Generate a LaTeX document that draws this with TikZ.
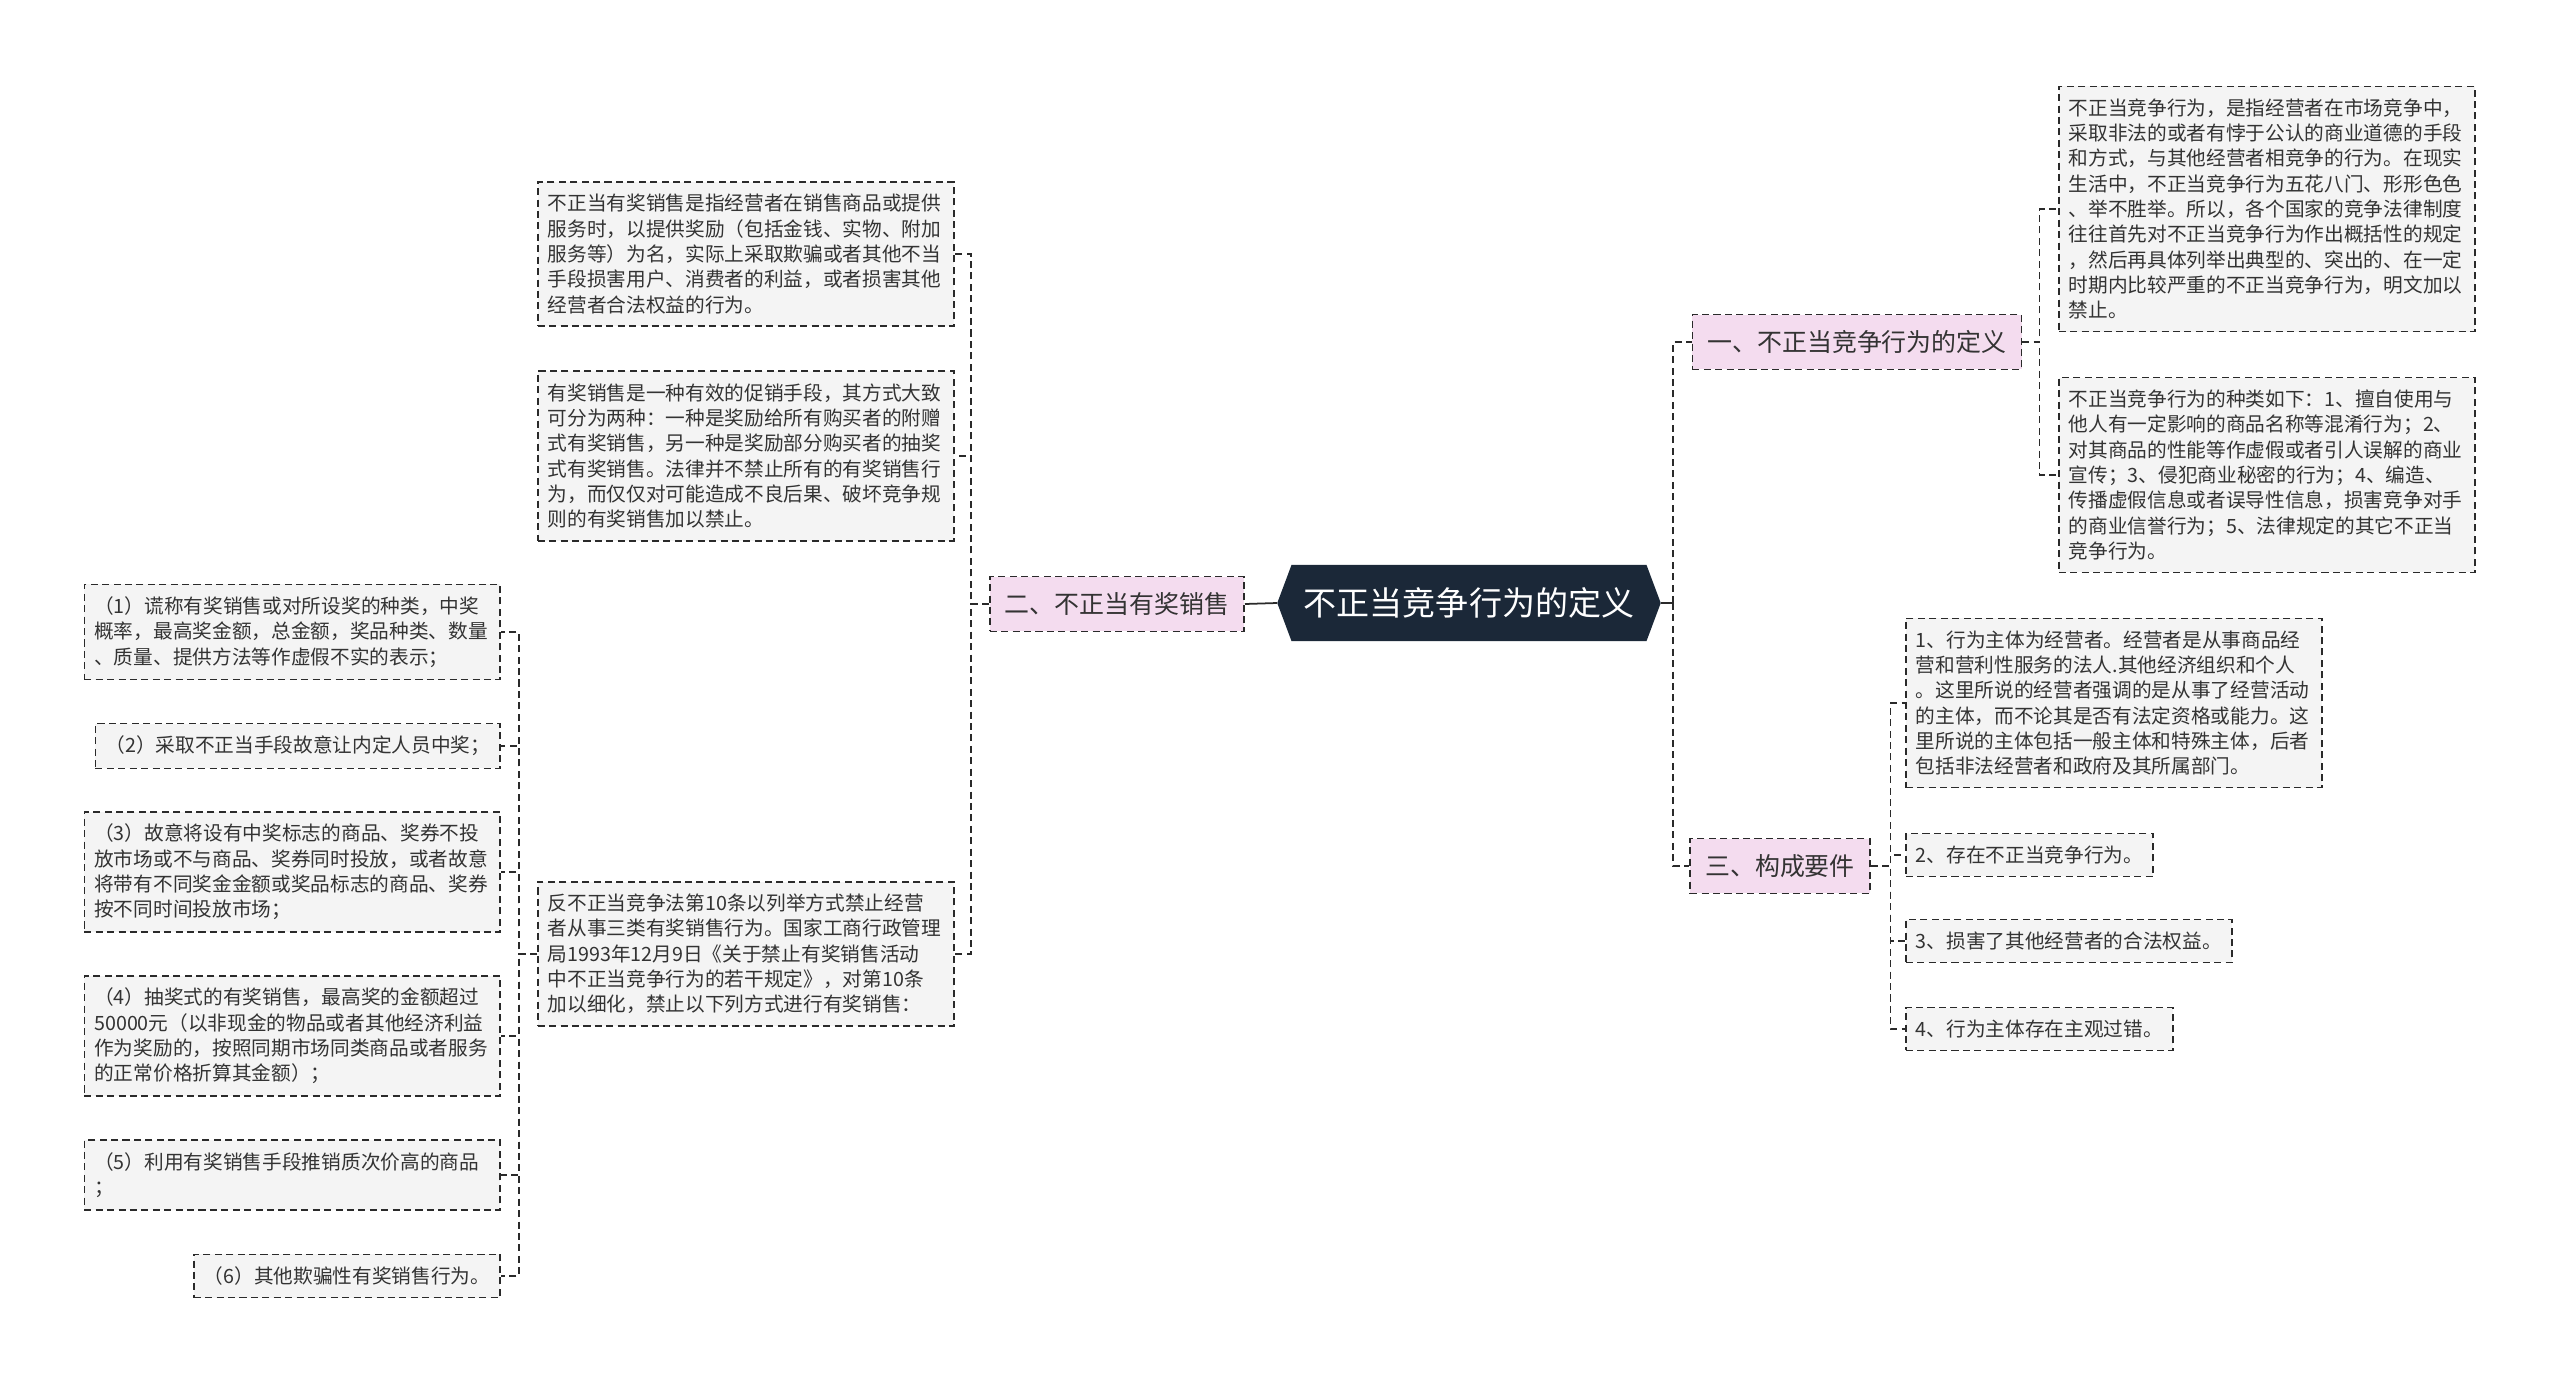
\documentclass[tikz,border=0pt]{standalone}
\usepackage{fontspec}
\setmainfont{Noto Sans CJK SC}
\usetikzlibrary{shapes.symbols}
\definecolor{rootfill}{HTML}{1B2838}
\definecolor{pinkfill}{HTML}{F4DCEF}
\definecolor{leaffill}{HTML}{F4F4F4}
\definecolor{ink}{HTML}{333333}
\definecolor{edge}{HTML}{2A2A2A}

\begin{document}
\begin{tikzpicture}[x=0.02cm,y=-0.02cm,
	leaf/.style={draw=edge,dash pattern=on 4pt off 2.5pt,line width=0.9pt,fill=leaffill,text=ink,align=left,inner xsep=0.2cm,inner ysep=7pt,font=\fontsize{11.2pt}{14.4pt}\selectfont},
	wide/.style={leaf,text width=7.92cm},
	topic/.style={draw=edge,dash pattern=on 4pt off 2.5pt,line width=0.9pt,fill=pinkfill,text=ink,inner xsep=8.5pt,inner ysep=9pt,font=\fontsize{14.2pt}{17pt}\selectfont},
	link/.style={draw=edge,dash pattern=on 4pt off 2.5pt,line width=0.9pt},
	solidlink/.style={draw=edge,line width=1pt}]
	\useasboundingbox (0,0) rectangle (2560,1383);
	\node[signal,signal to=west and east,signal pointer angle=139,fill=rootfill,text=white,inner xsep=7pt,inner ysep=13pt,font=\fontsize{18.8pt}{22pt}\selectfont] (0) at (1469,603) {不正当竞争行为的定义};
	\node[topic] (1) at (1857,342) {一、不正当竞争行为的定义};
	\node[topic] (2) at (1117,604) {二、不正当有奖销售};
	\node[topic] (3) at (1780,866) {三、构成要件};
	\node[wide,anchor=west] (11) at (2058,209) {不正当竞争行为，是指经营者在市场竞争中，\\采取非法的或者有悖于公认的商业道德的手段\\和方式，与其他经营者相竞争的行为。在现实\\生活中，不正当竞争行为五花八门、形形色色\\、举不胜举。所以，各个国家的竞争法律制度\\往往首先对不正当竞争行为作出概括性的规定\\，然后再具体列举出典型的、突出的、在一定\\时期内比较严重的不正当竞争行为，明文加以\\禁止。};
	\node[wide,anchor=west] (12) at (2058,475) {不正当竞争行为的种类如下：1、擅自使用与\\他人有一定影响的商品名称等混淆行为；2、\\对其商品的性能等作虚假或者引人误解的商业\\宣传；3、侵犯商业秘密的行为；4、编造、\\传播虚假信息或者误导性信息，损害竞争对手\\的商业信誉行为；5、法律规定的其它不正当\\竞争行为。};
	\node[wide,anchor=west] (21) at (537,254) {不正当有奖销售是指经营者在销售商品或提供\\服务时，以提供奖励（包括金钱、实物、附加\\服务等）为名，实际上采取欺骗或者其他不当\\手段损害用户、消费者的利益，或者损害其他\\经营者合法权益的行为。};
	\node[wide,anchor=west] (22) at (537,456) {有奖销售是一种有效的促销手段，其方式大致\\可分为两种：一种是奖励给所有购买者的附赠\\式有奖销售，另一种是奖励部分购买者的抽奖\\式有奖销售。法律并不禁止所有的有奖销售行\\为，而仅仅对可能造成不良后果、破坏竞争规\\则的有奖销售加以禁止。};
	\node[wide,anchor=west] (23) at (537,954) {反不正当竞争法第10条以列举方式禁止经营\\者从事三类有奖销售行为。国家工商行政管理\\局1993年12月9日《关于禁止有奖销售活动\\中不正当竞争行为的若干规定》，对第10条\\加以细化，禁止以下列方式进行有奖销售：};
	\node[wide,anchor=east] (231) at (501,632) {（1）谎称有奖销售或对所设奖的种类，中奖\\概率，最高奖金额，总金额，奖品种类、数量\\、质量、提供方法等作虚假不实的表示；};
	\node[leaf,anchor=east] (232) at (501,746) {（2）采取不正当手段故意让内定人员中奖；};
	\node[wide,anchor=east] (233) at (501,872) {（3）故意将设有中奖标志的商品、奖券不投\\放市场或不与商品、奖券同时投放，或者故意\\将带有不同奖金金额或奖品标志的商品、奖券\\按不同时间投放市场；};
	\node[wide,anchor=east] (234) at (501,1036) {（4）抽奖式的有奖销售，最高奖的金额超过\\50000元（以非现金的物品或者其他经济利益\\作为奖励的，按照同期市场同类商品或者服务\\的正常价格折算其金额）；};
	\node[wide,anchor=east] (235) at (501,1175) {（5）利用有奖销售手段推销质次价高的商品\\；};
	\node[leaf,anchor=east] (236) at (501,1276) {（6）其他欺骗性有奖销售行为。};
	\node[wide,anchor=west] (31) at (1905,703) {1、行为主体为经营者。经营者是从事商品经\\营和营利性服务的法人.其他经济组织和个人\\。这里所说的经营者强调的是从事了经营活动\\的主体，而不论其是否有法定资格或能力。这\\里所说的主体包括一般主体和特殊主体，后者\\包括非法经营者和政府及其所属部门。};
	\node[leaf,anchor=west] (32) at (1905,855) {2、存在不正当竞争行为。};
	\node[leaf,anchor=west] (33) at (1905,941) {3、损害了其他经营者的合法权益。};
	\node[leaf,anchor=west] (34) at (1905,1029) {4、行为主体存在主观过错。};
	\coordinate (r) at (1673,603);
	\draw[solidlink] (0.east) -- (r);
	\draw[link] (r) |- (1.west);
	\draw[link] (r) |- (3.west);
	\draw[solidlink] (0.west) -- (2.east);
	\foreach \c in {11,12} \draw[link] (1.east) -- ++(17,0) |- (\c.west);
	\foreach \c in {31,32,33,34} \draw[link] (3.east) -- ++(20,0) |- (\c.west);
	\foreach \c in {21,22,23} \draw[link] (2.west) -- ++(-18,0) |- (\c.east);
	\foreach \c in {231,232,233,234,235,236} \draw[link] (23.west) -- ++(-18,0) |- (\c.east);
\end{tikzpicture}
\end{document}
